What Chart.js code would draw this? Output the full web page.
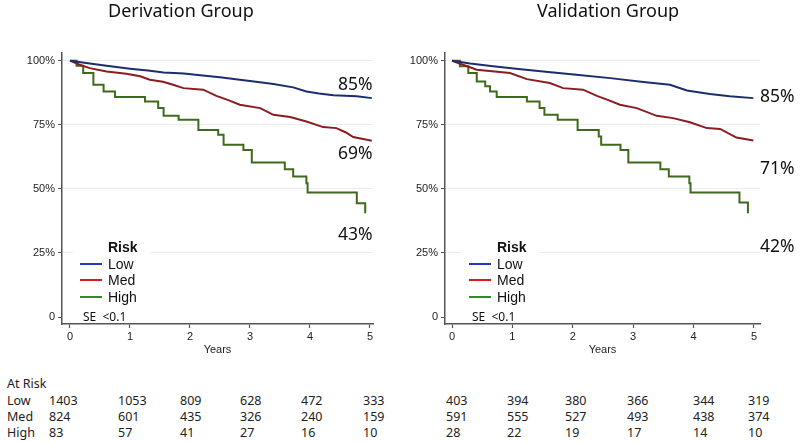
<!DOCTYPE html>
<html><head><meta charset="utf-8">
<script src="https://cdn.jsdelivr.net/npm/chart.js@4/dist/chart.umd.min.js"></script>
<style>
body{margin:0;width:800px;height:442px;background:#fff;position:relative;overflow:hidden;font-family:'Noto Sans',sans-serif;color:#222}
canvas{position:absolute;top:0}
.t{position:absolute;white-space:nowrap}
.box{position:absolute;background:#fff}
.ln{position:absolute;height:2px}
</style></head><body>
<canvas id="c1" width="400" height="370" style="left:0"></canvas>
<canvas id="c2" width="417" height="370" style="left:383px"></canvas>
<script>
// ---- data ----
const riskGroups = ['Low', 'Med', 'High'];
const yearTicks = [0, 1, 2, 3, 4, 5];
const survivalTicks = [0, 0.25, 0.5, 0.75, 1];
const derivationLow = [[0,1],[0.3,0.990],[0.61,0.980],[1.0,0.969],[1.3,0.962],[1.56,0.954],[1.9,0.950],[2.17,0.943],[2.5,0.935],[2.83,0.926],[3.1,0.918],[3.39,0.909],[3.72,0.896],[3.94,0.880],[4.15,0.872],[4.39,0.865],[4.78,0.861],[5.03,0.854]];
const derivationMed = [[0,1],[0.15,0.985],[0.33,0.971],[0.61,0.958],[0.94,0.949],[1.17,0.939],[1.33,0.926],[1.55,0.918],[1.72,0.906],[1.89,0.893],[2.22,0.887],[2.44,0.863],[2.65,0.845],[2.83,0.828],[3.17,0.815],[3.39,0.789],[3.67,0.780],[3.94,0.763],[4.22,0.741],[4.44,0.737],[4.6,0.720],[4.72,0.702],[5.03,0.688]];
const derivationHigh = [[0,1],[0.11,0.980],[0.22,0.952],[0.39,0.906],[0.56,0.880],[0.75,0.858],[1.25,0.841],[1.47,0.815],[1.56,0.785],[1.81,0.770],[2.14,0.730],[2.47,0.711],[2.56,0.672],[2.89,0.652],[3.03,0.603],[3.58,0.577],[3.72,0.548],[3.94,0.522],[3.96,0.486],[4.78,0.444],[4.92,0.405]];
const validationLow = [[0,1],[0.3,0.989],[0.68,0.978],[1.1,0.968],[1.51,0.958],[2.06,0.945],[2.62,0.932],[3.17,0.917],[3.61,0.906],[3.89,0.884],[4.27,0.870],[4.60,0.861],[4.99,0.854]];
const validationMed = [[0,1],[0.41,0.965],[0.96,0.952],[1.24,0.928],[1.62,0.913],[1.84,0.893],[2.17,0.887],[2.40,0.863],[2.6,0.845],[2.78,0.828],[3.06,0.815],[3.39,0.785],[3.66,0.776],[3.94,0.760],[4.22,0.737],[4.44,0.734],[4.71,0.700],[4.99,0.689]];
const validationHigh = [[0,1],[0.13,0.978],[0.27,0.952],[0.41,0.919],[0.55,0.900],[0.63,0.880],[0.74,0.858],[1.24,0.841],[1.45,0.815],[1.53,0.789],[1.75,0.770],[2.08,0.730],[2.43,0.704],[2.47,0.672],[2.79,0.652],[2.92,0.603],[3.45,0.577],[3.59,0.548],[3.93,0.522],[3.95,0.486],[4.76,0.447],[4.90,0.405]];
const derivationFinal = ['85%', '69%', '43%'];
const validationFinal = ['85%', '71%', '42%'];
const atRiskDerivationLow = [1403, 1053, 809, 628, 472, 333];
const atRiskDerivationMed = [824, 601, 435, 326, 240, 159];
const atRiskDerivationHigh = [83, 57, 41, 27, 16, 10];
const atRiskValidationLow = [403, 394, 380, 366, 344, 319];
const atRiskValidationMed = [591, 555, 527, 493, 438, 374];
const atRiskValidationHigh = [28, 22, 19, 17, 14, 10];

// ---- styling ----
const curveColors = ['#1c2d6e', '#8a1c22', '#3f6a1c'];
const legendColors = ['#2238c0', '#d61e1e', '#2f8a2a'];
const axisFont = {family: "'Liberation Sans', Arial, sans-serif", size: 11};

function makeChart(id, series, xMin, xMax, padRight) {
  return new Chart(document.getElementById(id), {
    type: 'line',
    data: {datasets: series.map((s, i) => ({
      label: riskGroups[i],
      data: s.map(p => ({x: p[0], y: p[1]})),
      borderColor: curveColors[i], borderWidth: 2, pointRadius: 0, tension: 0,
      stepped: i === 2 ? 'before' : false, fill: false
    }))},
    options: {
      responsive: false, animation: false, events: [],
      layout: {padding: {top: 53, right: padRight, left: 0, bottom: 0}},
      plugins: {legend: {display: false}, tooltip: {enabled: false}},
      scales: {
        x: {
          type: 'linear', min: xMin, max: xMax,
          afterBuildTicks: s => { s.ticks = yearTicks.map(v => ({value: v})); },
          ticks: {font: axisFont, color: '#222', padding: 2, callback: v => String(v)},
          grid: {drawOnChartArea: false, tickLength: 4, tickColor: '#555', tickWidth: 1.2},
          border: {color: '#555', width: 1.5},
          title: {display: true, text: 'Years', font: axisFont, color: '#222', padding: {top: 0, bottom: 13}},
          afterFit: s => { s.height = 46; }
        },
        y: {
          type: 'linear', min: -0.027, max: 1.03,
          afterBuildTicks: s => { s.ticks = survivalTicks.map(v => ({value: v})); },
          ticks: {font: axisFont, color: '#222', padding: 3, callback: v => v === 0 ? '0' : Math.round(v * 100) + '%'},
          grid: {color: c => (c.tick && c.tick.value === 0) ? 'rgba(0,0,0,0)' : '#ebeded', tickColor: '#555', tickLength: 4, lineWidth: 1},
          border: {color: '#555', width: 1.5},
          afterFit: s => { s.width = 62; }
        }
      }
    }
  });
}
makeChart('c1', [derivationLow, derivationMed, derivationHigh], -0.133, 5.05, 27);
makeChart('c2', [validationLow, validationMed, validationHigh], -0.116, 5.10, 40);

// ---- text overlays ----
function txt(s, x, cy, size, extra) {
  const d = document.createElement('div');
  d.className = 't';
  d.textContent = s;
  const lh = Math.round(size * 1.4);
  d.style.cssText += `left:${x}px;top:${cy - lh / 2}px;font-size:${size}px;line-height:${lh}px;` + (extra || '');
  document.body.appendChild(d);
  return d;
}
function box(x, y, w, h) {
  const d = document.createElement('div');
  d.className = 'box';
  d.style.cssText = `left:${x}px;top:${y}px;width:${w}px;height:${h}px`;
  document.body.appendChild(d);
}
function legend(lineX, textX) {
  box(lineX - 7, 236, 77, 86);
  txt('Risk', textX, 247, 14, "font-family:'Liberation Sans',Arial,sans-serif;font-weight:bold;color:#111");
  const ys = [264, 280, 297];
  riskGroups.forEach((g, i) => {
    const l = document.createElement('div');
    l.className = 'ln';
    l.style.cssText = `left:${lineX}px;top:${ys[i] - 1}px;width:22px;background:${legendColors[i]}`;
    document.body.appendChild(l);
    txt(g, textX, ys[i], 14, "font-family:'Liberation Sans',Arial,sans-serif;color:#111");
  });
  txt('SE\u00a0\u00a0<0.1', lineX + 3, 316, 12, 'color:#111');
}
legend(80, 108);
legend(469, 497);

// titles
txt('Derivation Group', 108, 10, 18, 'color:#111');
txt('Validation Group', 537, 10, 18, 'color:#111');

// final survival labels
const dY = [83, 152, 233];
derivationFinal.forEach((s, i) => txt(s, 338, dY[i], 17.5, 'color:#111'));
const vY = [95, 167, 245];
validationFinal.forEach((s, i) => txt(s, 760, vY[i], 17.5, 'color:#111'));

// at-risk table
txt('At Risk', 7, 384, 12.5);
const rowY = [400.5, 416.5, 432.5];
riskGroups.forEach((g, i) => txt(g, 7, rowY[i], 12.5));
const colL = [49, 118, 180, 240, 301, 363];
const colR = [446, 507, 565, 627, 693, 748];
[atRiskDerivationLow, atRiskDerivationMed, atRiskDerivationHigh].forEach((row, r) =>
  row.forEach((n, c) => txt(String(n), colL[c], rowY[r], 12.5)));
[atRiskValidationLow, atRiskValidationMed, atRiskValidationHigh].forEach((row, r) =>
  row.forEach((n, c) => txt(String(n), colR[c], rowY[r], 12.5)));
</script>
</body></html>
